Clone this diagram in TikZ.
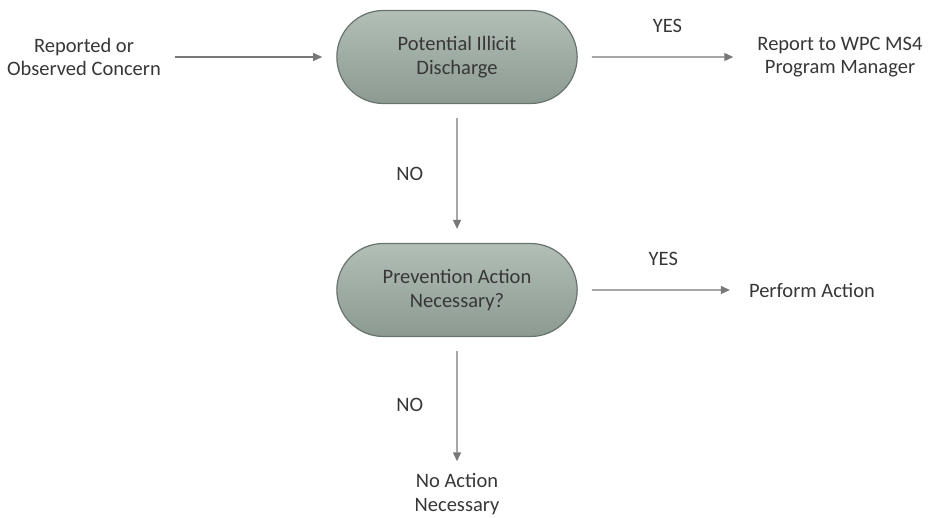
\documentclass[tikz,border=0pt]{standalone}
\usepackage{fontspec}
\setmainfont{Carlito}
\usepackage{tikz}
\usetikzlibrary{arrows.meta, positioning, shapes.misc}
\definecolor{decisiongreen}{RGB}{140, 154, 146}
\definecolor{decisionlight}{RGB}{178, 190, 182}
\definecolor{decisionedge}{RGB}{105, 115, 110}
\definecolor{flowgray}{RGB}{120, 120, 120}
\definecolor{textgray}{RGB}{55, 55, 55}

\begin{document}
\begin{tikzpicture}[x=1pt, y=-1pt,
  font=\fontsize{20.5}{23.5}\selectfont, text=textgray,
  decision/.style={draw=decisionedge, line width=1.2pt, rounded rectangle,
    top color=decisionlight, bottom color=decisiongreen,
    minimum width=247pt, minimum height=93pt, align=center},
  plain/.style={align=center, inner sep=0pt},
  flow/.style={-{Triangle[length=9pt, width=8pt]}, draw=flowgray, line width=1.2pt,
    shorten <=14pt, shorten >=14pt}]
\useasboundingbox (0,0) rectangle (928,518);
\node[plain] (concern) at (84,57) {Reported or\\Observed Concern};
\node[decision] (illicit) at (457,57) {Potential Illicit\\Discharge};
\node[plain] (report) at (840,57) {Report to WPC MS4\\Program Manager};
\node[decision] (prevent) at (457,290) {Prevention Action\\Necessary?};
\node[plain] (perform) at (812,290) {Perform Action};
\node[plain] (noaction) at (457,494) {No Action\\Necessary};
\draw[flow] (concern) -- (illicit);
\draw[flow, shorten >=24pt] (illicit) -- node[above=20pt] (yestop) {YES} (report);
\draw[flow] (illicit) -- node[left=30pt] (notop) {NO} (prevent);
\draw[flow, shorten >=19pt] (prevent) -- node[above=20pt] (yesbottom) {YES} (perform);
\draw[flow, shorten >=12pt] (prevent) -- node[left=30pt] (nobottom) {NO} (noaction);
\end{tikzpicture}
\end{document}
